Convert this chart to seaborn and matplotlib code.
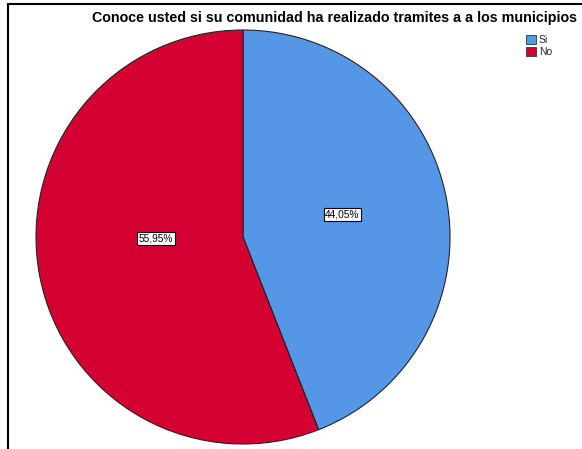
import matplotlib
matplotlib.use("Agg")
import matplotlib.pyplot as plt
import seaborn as sns
from matplotlib.lines import Line2D
from matplotlib.patches import Patch

# Data
categories = ["Si", "No"]
percentages = [44.05, 55.95]
pct_labels = ["44,05%", "55,95%"]
colors = ["#5596E6", "#D50032"]
title = "Conoce usted si su comunidad ha realizado tramites a a los municipios"

sns.set_style("white")
plt.rcParams['font.family'] = ['Liberation Sans', 'DejaVu Sans']

W, H = 582, 449
fig = plt.figure(figsize=(W / 100, H / 100), dpi=100)

# pie axes: center (243, 237) px, radius 207 px
cx, cy, r = 243, 237, 207
ax = fig.add_axes([(cx - r) / W, 1 - (cy + r) / H, 2 * r / W, 2 * r / H])
wedges, texts = ax.pie(percentages, colors=colors, startangle=90, counterclock=False,
                       radius=1, wedgeprops=dict(edgecolor="#222222", linewidth=0.8))
ax.set_xlim(-1, 1)
ax.set_ylim(-1, 1)
ax.set_aspect("auto")
ax.axis("off")

# percentage labels
label_pos = [(0.48, 0.11), (-0.42, -0.005)]
for (x, y), lab in zip(label_pos, pct_labels):
    ax.text(x, y, lab, ha="center", va="center", fontsize=7.3, color="black",
            bbox=dict(boxstyle="square,pad=0.15", facecolor="white", edgecolor="black", linewidth=0.8))

fig.text(334 / W, 1 - 18 / H, title, ha="center", va="center", fontsize=10.3,
         fontweight="bold", color="black")

handles = [Patch(facecolor=c, edgecolor="#333333", linewidth=0.6) for c in colors]
fig.legend(handles, categories, loc="upper left", bbox_to_anchor=(521 / W, 1 - 30 / H),
           frameon=False, fontsize=7.5, handlelength=0.9, handleheight=0.9,
           handletextpad=0.3, labelspacing=0.15, borderpad=0)

# outer frame (top and left)
fig.add_artist(Line2D([8 / W, 1], [1 - 4 / H, 1 - 4 / H], color="black", linewidth=1.5))
fig.add_artist(Line2D([8 / W, 8 / W], [0, 1 - 4 / H], color="black", linewidth=1.5))

fig.savefig("out.png", dpi=100)
